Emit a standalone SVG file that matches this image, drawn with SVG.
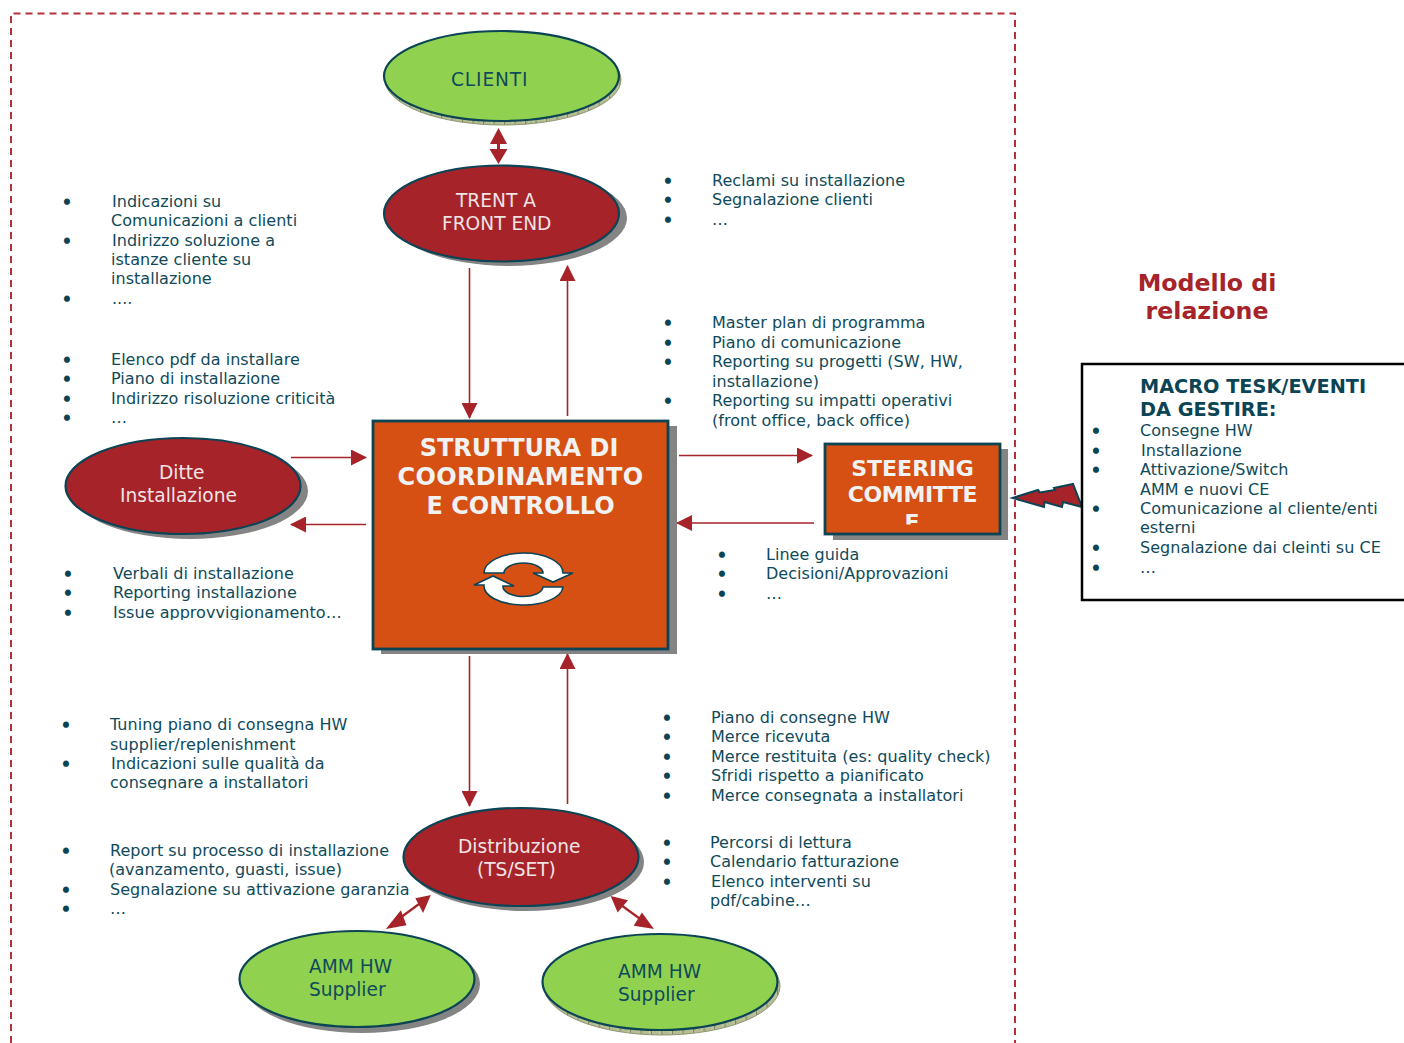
<svg xmlns="http://www.w3.org/2000/svg" width="1404" height="1043" viewBox="0 0 1404 1043">
<style>
text{font-family:"DejaVu Sans",Verdana,sans-serif}
.t{font-size:16px;letter-spacing:.03px;fill:#0f4a5a}
.b{font-size:15px;fill:#0a4455;stroke:#0a4455;stroke-width:1.700;transform:translate(.5px,.5px)}
.n{font-size:18.600px;fill:#0f4a5a}
.w{font-size:18.600px;fill:#f0e4e4}
.h{font-size:24px;font-weight:bold;fill:#f2f2f2;text-anchor:middle}
.h2{font-size:22px}
.m{font-size:19.300px;font-weight:bold;fill:#0a4455}
.ti{font-size:23.700px;font-weight:bold;fill:#a6232a;text-anchor:middle}
.c{stroke:#a6232a;stroke-width:1.600;fill:none}
.d{stroke:#a6232a;stroke-width:2.200;fill:#a6232a}
.e{stroke:#0a4455;stroke-width:2.200}
.g{fill:#90d24f}.r{fill:#a6232a}.o{fill:#d64f13;stroke:#0a4455;stroke-width:2.800}
.s{fill:#848484}
.ah{fill:#a6232a}
.hb{fill:url(#hatch);stroke:#8f9772}
.ring{fill:#fff;stroke:#0a4455;stroke-width:1.600}
</style>
<defs>
<pattern id="hatch" width="10.500" height="4" patternUnits="userSpaceOnUse"><rect width="10.500" height="4" fill="#bcc49a"/><path d="M0 0L4 4M4 0L0 4M4 0L8 4M8 0L4 4" stroke="#98a07a" stroke-width="0.500"/><path d="M0.500 0V4" stroke="#7d8560" stroke-width="1"/></pattern>
<marker id="a" viewBox="0 0 16 16" refX="15" refY="8" markerWidth="16" markerHeight="16" markerUnits="userSpaceOnUse" orient="auto-start-reverse"><path d="M0 0L16 8L0 16Z" class="ah"/></marker>
<clipPath id="c1"><rect x="820" y="450" width="180" height="74.500"/></clipPath>
<clipPath id="c2"><rect x="60" y="715" width="320" height="74.500"/></clipPath>
<clipPath id="c3"><rect x="60" y="560" width="320" height="60"/></clipPath>
</defs>
<rect width="1404" height="1043" fill="#fff"/>
<path d="M11 1043V13.500H1015V1043" fill="none" stroke="#b5303a" stroke-width="2" stroke-dasharray="7 5"/>

<g id="connectors">
<path class="c" d="M469.500 268V418" marker-end="url(#a)"/>
<path class="c" d="M567.500 416V266" marker-end="url(#a)"/>
<path class="c" d="M291 457.500H366" marker-end="url(#a)"/>
<path class="c" d="M366 524.500H291" marker-end="url(#a)"/>
<path class="c" d="M679 455.500H812" marker-end="url(#a)"/>
<path class="c" d="M814 523H677" marker-end="url(#a)"/>
<path class="c" d="M469.500 656V806" marker-end="url(#a)"/>
<path class="c" d="M567.500 804V654" marker-end="url(#a)"/>
<path d="M498.500 128L507 144H500V149H507.500L498.500 164 489.500 149H497V144H490Z" fill="#a6232a"/>
<path d="M400 918L419 904" class="d"/>
<path d="M388.500 927.500L400.500 912.500 405 924.500ZM429 896.500L417 899 423 910.500Z" class="d" stroke-width="1"/>
<path d="M621 905L643 921" class="d"/>
<path d="M612.500 897.500L626 901 618 910.500ZM651.500 927.500L635.500 925 642 914.500Z" class="d" stroke-width="1"/>
</g>

<g id="clienti">
<ellipse class="hb" cx="503" cy="79.500" rx="118" ry="45.500"/>
<ellipse class="g e" cx="501.500" cy="76" rx="117.500" ry="45"/>
<text class="n" style="letter-spacing:.85px" x="451" y="86">CLIENTI</text>
</g>
<g id="trenta">
<ellipse class="s" cx="509" cy="218" rx="118" ry="48"/>
<ellipse class="r e" cx="501.500" cy="213.500" rx="117.500" ry="48"/>
<text class="w" x="456" y="207">TRENT A</text>
<text class="w" x="442" y="230">FRONT END</text>
</g>
<g id="ditte">
<ellipse class="s" cx="190" cy="491" rx="118" ry="48"/>
<ellipse class="r e" cx="183" cy="486" rx="117.500" ry="48"/>
<text class="w" x="159" y="479">Ditte</text>
<text class="w" x="120" y="502">Installazione</text>
</g>
<g id="struttura">
<rect class="s" x="381" y="426" width="296" height="228"/>
<rect class="o" x="373" y="421" width="295" height="228"/>
<text class="h" x="519" y="456">STRUTTURA DI</text>
<text class="h" style="letter-spacing:.35px" x="520.500" y="485">COORDINAMENTO</text>
<text class="h" x="520.500" y="514">E CONTROLLO</text>
<path class="ring" d="M484 573A39.500 20 0 0 1 563 573H573L553 582 533 573H543A19.500 10 0 0 0 504 573Z"/>
<path class="ring" d="M563 587A39.500 19 0 0 1 484 585H474L493 576 514 586H503A20 10 0 0 0 543 587Z"/>
</g>
<g id="steering">
<rect class="s" x="833" y="449" width="175" height="91"/>
<rect class="o" x="825" y="444" width="175" height="90"/>
<text class="h h2" x="912.500" y="476">STEERING</text>
<text class="h h2" style="letter-spacing:-.35px" x="912.500" y="502">COMMITTE</text>
<text class="h h2" x="912" y="530" clip-path="url(#c1)">E</text>
</g>
<g id="distribuzione">
<ellipse class="s" cx="526" cy="862" rx="118" ry="49"/>
<ellipse class="r e" cx="521" cy="857" rx="117.500" ry="49"/>
<text class="w" x="458" y="853">Distribuzione</text>
<text class="w" x="477" y="876">(TS/SET)</text>
</g>
<g id="amm1">
<ellipse class="s" cx="362" cy="984" rx="118" ry="49"/>
<ellipse class="g e" cx="357" cy="979" rx="117.500" ry="48"/>
<text class="n" x="309" y="973">AMM HW</text>
<text class="n" x="309" y="996">Supplier</text>
</g>
<g id="amm2">
<ellipse class="hb" cx="662" cy="986" rx="118" ry="49"/>
<ellipse class="g e" cx="660" cy="982" rx="117.500" ry="48"/>
<text class="n" x="618" y="978">AMM HW</text>
<text class="n" x="618" y="1001">Supplier</text>
</g>
<g id="fulmine">
<path d="M1012.500 498L1038 490 1040 492.500 1055 490 1054 488 1073 484 1082 507 1063 502 1062 507 1044.500 502 1044 507Z" fill="#a6232a" stroke="#0a4455" stroke-width="2"/>
</g>

<g id="notes">
<text class="b" x="62" y="207">•</text><text class="t" x="112" y="207">Indicazioni su</text><text class="t" x="111" y="226">Comunicazioni a clienti</text>
<text class="b" x="62" y="246">•</text><text class="t" x="112" y="246">Indirizzo soluzione a</text><text class="t" x="111" y="265">istanze cliente su</text><text class="t" x="111" y="284">installazione</text>
<text class="b" x="62" y="304">•</text><text class="t" x="112" y="304">....</text>

<text class="b" x="62" y="365">•</text><text class="t" x="111" y="365">Elenco pdf da installare</text>
<text class="b" x="62" y="384">•</text><text class="t" x="111" y="384">Piano di installazione</text>
<text class="b" x="62" y="404">•</text><text class="t" x="111" y="404">Indirizzo risoluzione criticità</text>
<text class="b" x="62" y="423">•</text><text class="t" x="111" y="423">…</text>

<text class="b" x="63" y="579">•</text><text class="t" x="113" y="579">Verbali di installazione</text>
<text class="b" x="63" y="598">•</text><text class="t" x="113" y="598">Reporting installazione</text>
<text class="b" x="63" y="618">•</text><text class="t" x="113" y="618" clip-path="url(#c3)">Issue approvvigionamento…</text>

<text class="b" x="61" y="730">•</text><text class="t" x="110" y="730">Tuning piano di consegna HW</text><text class="t" x="110" y="750">supplier/replenishment</text>
<text class="b" x="61" y="769">•</text><text class="t" x="111" y="769">Indicazioni sulle qualità da</text><text class="t" x="110" y="788" clip-path="url(#c2)">consegnare a installatori</text>

<text class="b" x="61" y="856">•</text><text class="t" x="110" y="856">Report su processo di installazione</text><text class="t" x="109" y="875">(avanzamento, guasti, issue)</text>
<text class="b" x="61" y="895">•</text><text class="t" x="110" y="895">Segnalazione su attivazione garanzia</text>
<text class="b" x="61" y="914">•</text><text class="t" x="110" y="914">…</text>

<text class="b" x="663" y="186">•</text><text class="t" x="712" y="186">Reclami su installazione</text>
<text class="b" x="663" y="205">•</text><text class="t" x="712" y="205">Segnalazione clienti</text>
<text class="b" x="663" y="225">•</text><text class="t" x="712" y="225">…</text>

<text class="b" x="663" y="328">•</text><text class="t" x="712" y="328">Master plan di programma</text>
<text class="b" x="663" y="348">•</text><text class="t" x="712" y="348">Piano di comunicazione</text>
<text class="b" x="663" y="367">•</text><text class="t" x="712" y="367">Reporting su progetti (SW, HW,</text><text class="t" x="712" y="387">installazione)</text>
<text class="b" x="663" y="406">•</text><text class="t" x="712" y="406">Reporting su impatti operativi</text><text class="t" x="712" y="426">(front office, back office)</text>

<text class="b" x="717" y="560">•</text><text class="t" x="766" y="560">Linee guida</text>
<text class="b" x="717" y="579">•</text><text class="t" x="766" y="579">Decisioni/Approvazioni</text>
<text class="b" x="717" y="599">•</text><text class="t" x="766" y="599">…</text>

<text class="b" x="662" y="723">•</text><text class="t" x="711" y="723">Piano di consegne HW</text>
<text class="b" x="662" y="742">•</text><text class="t" x="711" y="742">Merce ricevuta</text>
<text class="b" x="662" y="762">•</text><text class="t" x="711" y="762">Merce restituita (es: quality check)</text>
<text class="b" x="662" y="781">•</text><text class="t" x="711" y="781">Sfridi rispetto a pianificato</text>
<text class="b" x="662" y="801">•</text><text class="t" x="711" y="801">Merce consegnata a installatori</text>

<text class="b" x="662" y="848">•</text><text class="t" x="710" y="848">Percorsi di lettura</text>
<text class="b" x="662" y="867">•</text><text class="t" x="710" y="867">Calendario fatturazione</text>
<text class="b" x="662" y="887">•</text><text class="t" x="711" y="887">Elenco interventi su</text><text class="t" x="710" y="906">pdf/cabine…</text>
</g>

<g id="titolo">
<text class="ti" x="1207" y="291">Modello di</text>
<text class="ti" x="1207" y="319">relazione</text>
</g>
<g id="macro">
<rect x="1082" y="364" width="330" height="236" fill="#fff" stroke="#000" stroke-width="2.500"/>
<text class="m" x="1140" y="393">MACRO TESK/EVENTI</text>
<text class="m" x="1140" y="416">DA GESTIRE:</text>
<text class="b" x="1091" y="436">•</text><text class="t" x="1140" y="436">Consegne HW</text>
<text class="b" x="1091" y="456">•</text><text class="t" x="1141" y="456">Installazione</text>
<text class="b" x="1091" y="475">•</text><text class="t" x="1140" y="475">Attivazione/Switch</text><text class="t" x="1140" y="495">AMM e nuovi CE</text>
<text class="b" x="1091" y="514">•</text><text class="t" x="1140" y="514">Comunicazione al cliente/enti</text><text class="t" x="1140" y="533">esterni</text>
<text class="b" x="1091" y="553">•</text><text class="t" x="1140" y="553">Segnalazione dai cleinti su CE</text>
<text class="b" x="1091" y="573">•</text><text class="t" x="1140" y="573">…</text>
</g>
</svg>
